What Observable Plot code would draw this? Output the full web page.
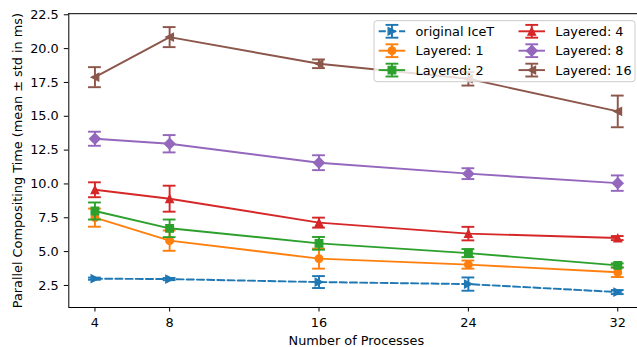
<!DOCTYPE html>
<html>
<head>
<meta charset="utf-8">
<script src="https://cdn.jsdelivr.net/npm/d3@7"></script>
<script src="https://cdn.jsdelivr.net/npm/@observablehq/plot@0.6"></script>
<style>
  html, body { margin: 0; padding: 0; background: #fff; }
  #chart { width: 637px; height: 347px; overflow: hidden; }
</style>
</head>
<body>
<div id="chart"></div>
<script>
// ---- data ----
const processes = [4, 8, 16, 24, 32];
const seriesNames = ["original IceT", "Layered: 1", "Layered: 2", "Layered: 4", "Layered: 8", "Layered: 16"];
const seriesColors = ["#1f77b4", "#ff7f0e", "#2ca02c", "#d62728", "#9467bd", "#8c564b"];
const seriesMarkers = ["triRight", "circle", "square", "triUp", "diamond", "triLeft"];

const iceTMean      = [3.00, 2.97, 2.75, 2.60, 2.01];
const iceTStd       = [0.08, 0.08, 0.44, 0.49, 0.15];
const layered1Mean  = [7.51, 5.81, 4.48, 4.04, 3.47];
const layered1Std   = [0.67, 0.75, 0.74, 0.30, 0.35];
const layered2Mean  = [8.00, 6.72, 5.61, 4.89, 3.98];
const layered2Std   = [0.63, 0.65, 0.47, 0.30, 0.15];
const layered4Mean  = [9.57, 8.91, 7.14, 6.33, 6.00];
const layered4Std   = [0.55, 0.96, 0.37, 0.50, 0.15];
const layered8Mean  = [13.34, 12.97, 11.57, 10.76, 10.06];
const layered8Std   = [0.52, 0.64, 0.55, 0.40, 0.57];
const layered16Mean = [17.89, 20.85, 18.88, 17.77, 15.36];
const layered16Std  = [0.74, 0.74, 0.32, 0.50, 1.17];

const yTicks = [2.5, 5.0, 7.5, 10.0, 12.5, 15.0, 17.5, 20.0, 22.5];
const xLabel = "Number of Processes";
const yLabel = "Parallel Compositing Time (mean ± std in ms)";

const allMeans = [iceTMean, layered1Mean, layered2Mean, layered4Mean, layered8Mean, layered16Mean];
const allStds  = [iceTStd, layered1Std, layered2Std, layered4Std, layered8Std, layered16Std];

// ---- marker symbols (matplotlib-like geometry) ----
function makeSymbol(kind) {
  return {
    draw(ctx, size) {
      const r = Math.sqrt(size / Math.PI);
      if (kind === "circle") {
        ctx.moveTo(r, 0); ctx.arc(0, 0, r, 0, 2 * Math.PI); ctx.closePath();
      } else if (kind === "square") {
        ctx.moveTo(-r, -r); ctx.lineTo(r, -r); ctx.lineTo(r, r); ctx.lineTo(-r, r); ctx.closePath();
      } else if (kind === "diamond") {
        const d = r * Math.SQRT2;
        ctx.moveTo(0, -d); ctx.lineTo(d, 0); ctx.lineTo(0, d); ctx.lineTo(-d, 0); ctx.closePath();
      } else if (kind === "triUp") {
        ctx.moveTo(0, -r); ctx.lineTo(r, r); ctx.lineTo(-r, r); ctx.closePath();
      } else if (kind === "triRight") {
        ctx.moveTo(r, 0); ctx.lineTo(-r, -r); ctx.lineTo(-r, r); ctx.closePath();
      } else if (kind === "triLeft") {
        ctx.moveTo(-r, 0); ctx.lineTo(r, -r); ctx.lineTo(r, r); ctx.closePath();
      }
    }
  };
}

const FONT = "DejaVu Sans";
const FS = 12.85;
const LW = 1.93;
const MR = 3.85;
const CAP = 6.4;

const rows = [];
seriesNames.forEach((name, s) => {
  processes.forEach((p, i) => {
    rows.push({series: name, s, x: p, y: allMeans[s][i], lo: allMeans[s][i] - allStds[s][i], hi: allMeans[s][i] + allStds[s][i]});
  });
});

const marks = [];
seriesNames.forEach((name, s) => {
  const data = rows.filter(d => d.s === s);
  const color = seriesColors[s];
  marks.push(Plot.ruleX(data, {x: "x", y1: "lo", y2: "hi", stroke: color, strokeWidth: LW}));
  marks.push(Plot.ruleY(data, {x1: "x", x2: "x", y: "lo", stroke: color, strokeWidth: LW, insetLeft: -CAP, insetRight: -CAP}));
  marks.push(Plot.ruleY(data, {x1: "x", x2: "x", y: "hi", stroke: color, strokeWidth: LW, insetLeft: -CAP, insetRight: -CAP}));
  marks.push(Plot.line(data, {x: "x", y: "y", stroke: color, strokeWidth: LW,
    strokeDasharray: s === 0 ? "7.1,3.1" : null}));
  marks.push(Plot.dot(data, {x: "x", y: "y", r: MR, symbol: makeSymbol(seriesMarkers[s]),
    fill: color, stroke: color, strokeWidth: 1.2}));
});

const xDomain = [2.6, 33.4];
const yDomain = [0.87, 22.58];

const chart = Plot.plot({
  width: 637,
  height: 347,
  marginLeft: 68.3,
  marginRight: -6.4,
  marginTop: 13.2,
  marginBottom: 40,
  style: {fontFamily: FONT, fontSize: FS + "px", color: "#000", background: "#fff"},
  x: {domain: xDomain, range: [68.3, 643.4]},
  y: {domain: yDomain, range: [307, 13.2]},
  marks: [
    ...marks,
    Plot.ruleX([xDomain[0]], {stroke: "#000", strokeWidth: 1}),
    Plot.ruleX([xDomain[1]], {stroke: "#000", strokeWidth: 1}),
    Plot.ruleY([yDomain[0]], {stroke: "#000", strokeWidth: 1}),
    Plot.ruleY([yDomain[1]], {stroke: "#000", strokeWidth: 1}),
    Plot.axisX({ticks: processes, tickSize: 4.5, tickPadding: 6, label: null, fontSize: FS, tickFormat: d => String(d), strokeWidth: 1}),
    Plot.axisY({ticks: yTicks, tickSize: 4.5, tickPadding: 5.5, label: null, fontSize: FS, tickFormat: d3.format(".1f"), strokeWidth: 1}),
    Plot.text([xLabel], {frameAnchor: "bottom", textAnchor: "middle", lineAnchor: "middle", dy: 33, fontSize: FS, fill: "#000"}),
    Plot.text([yLabel], {frameAnchor: "left", textAnchor: "middle", lineAnchor: "middle", dx: -51, rotate: -90, fontSize: FS, fill: "#000"})
  ]
});

// ---- legend (matplotlib style, upper right) ----
const svg = d3.select(chart);
const lg = svg.append("g").attr("font-family", FONT).attr("font-size", FS).attr("text-anchor", "start");
lg.append("rect").attr("x", 374).attr("y", 20.7).attr("width", 261).attr("height", 61)
  .attr("rx", 3).attr("fill", "#fff").attr("fill-opacity", 0.8)
  .attr("stroke", "#cccccc").attr("stroke-width", 1);
const colX = [378.7, 518.5];
const rowY = [31.3, 50.7, 70.1];
const handleW = 26.5;
seriesNames.forEach((name, s) => {
  const col = Math.floor(s / 3), row = s % 3;
  const x0 = colX[col], y0 = rowY[row], cx = x0 + handleW / 2;
  const color = seriesColors[s];
  const g = lg.append("g");
  g.append("line").attr("x1", x0).attr("x2", x0 + handleW).attr("y1", y0).attr("y2", y0)
    .attr("stroke", color).attr("stroke-width", LW)
    .attr("stroke-dasharray", s === 0 ? "7.1,3.1" : null);
  g.append("line").attr("x1", cx).attr("x2", cx).attr("y1", y0 - 6.4).attr("y2", y0 + 6.4)
    .attr("stroke", color).attr("stroke-width", LW);
  [y0 - 6.4, y0 + 6.4].forEach(yy => {
    g.append("line").attr("x1", cx - CAP).attr("x2", cx + CAP).attr("y1", yy).attr("y2", yy)
      .attr("stroke", color).attr("stroke-width", LW);
  });
  const p = d3.path();
  makeSymbol(seriesMarkers[s]).draw(p, MR * MR * Math.PI);
  g.append("path").attr("d", p.toString()).attr("transform", `translate(${cx},${y0})`)
    .attr("fill", color).attr("stroke", color).attr("stroke-width", 1.2);
  g.append("text").attr("x", x0 + handleW + 10.3).attr("y", y0).attr("dy", "0.36em")
    .attr("text-anchor", "start").attr("fill", "#000").text(name);
});

document.getElementById("chart").appendChild(chart);
</script>
</body>
</html>
